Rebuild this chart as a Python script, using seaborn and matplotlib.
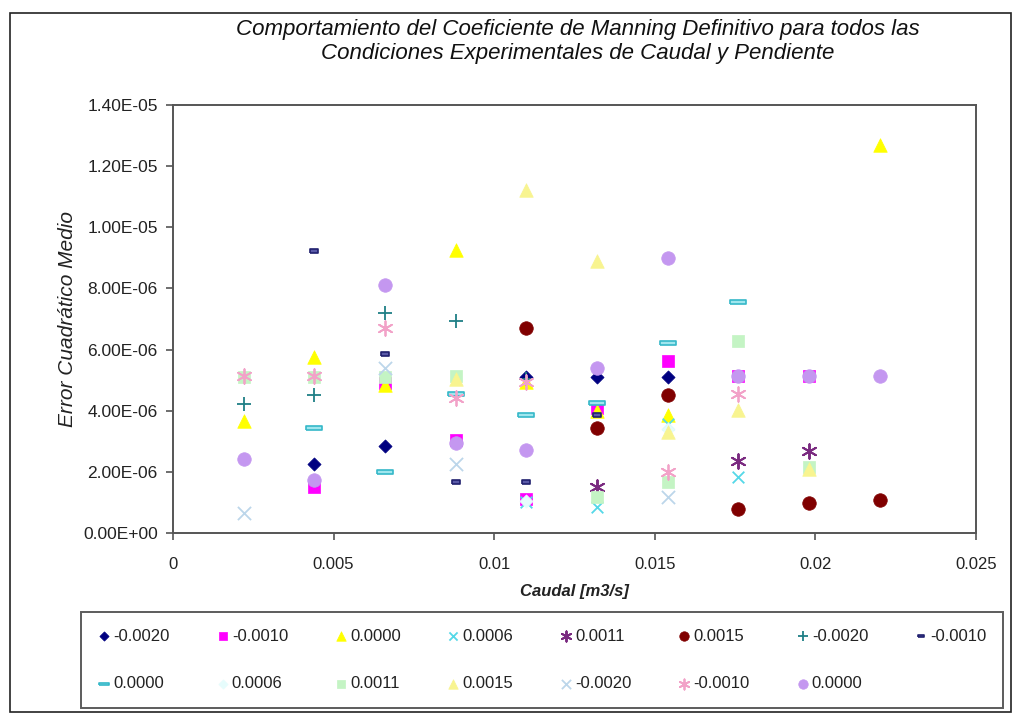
import numpy as np
import matplotlib
matplotlib.use("Agg")
import matplotlib.pyplot as plt
from matplotlib.ticker import FuncFormatter, MultipleLocator
from matplotlib.patches import Rectangle
import seaborn as sns

nan = np.nan

# Caudal [m3/s] for the ten experimental runs
caudal = [0.0022, 0.0044, 0.0066, 0.0088, 0.0110, 0.0132, 0.0154, 0.0176, 0.0198, 0.0220]

# Pendiente label of every series
pendientes = ["-0.0020", "-0.0010", "0.0000", "0.0006", "0.0011", "0.0015",
              "-0.0020", "-0.0010", "0.0000", "0.0006", "0.0011", "0.0015",
              "-0.0020", "-0.0010", "0.0000"]

# Error cuadratico medio per series (NaN where the run has no value)
ecm_01 = [nan, 2.25e-6, 2.84e-6, nan, 5.10e-6, 5.10e-6, 5.10e-6, nan, nan, nan]
ecm_02 = [nan, 1.51e-6, 4.90e-6, 3.03e-6, 1.10e-6, 4.08e-6, 5.62e-6, 5.15e-6, 5.15e-6, nan]
ecm_03 = [3.66e-6, 5.75e-6, 4.83e-6, 9.26e-6, 4.95e-6, 4.00e-6, 3.85e-6, nan, nan, 12.68e-6]
ecm_04 = [nan, nan, nan, nan, 1.02e-6, 0.86e-6, 3.58e-6, 1.82e-6, nan, nan]
ecm_05 = [nan, nan, nan, nan, nan, 1.51e-6, nan, 2.35e-6, 2.68e-6, nan]
ecm_06 = [nan, nan, nan, nan, 6.71e-6, 3.43e-6, 4.50e-6, 0.77e-6, 0.97e-6, 1.08e-6]
ecm_07 = [4.21e-6, 4.50e-6, 7.19e-6, 6.93e-6, 5.05e-6, nan, nan, nan, nan, nan]
ecm_08 = [nan, 9.23e-6, 5.86e-6, 1.67e-6, 1.67e-6, 3.85e-6, nan, nan, nan, nan]
ecm_09 = [nan, 3.43e-6, 2.00e-6, 4.55e-6, 3.85e-6, 4.25e-6, 6.21e-6, 7.55e-6, nan, nan]
ecm_10 = [nan, nan, nan, nan, 1.05e-6, nan, 3.40e-6, nan, nan, nan]
ecm_11 = [5.10e-6, 5.10e-6, 5.10e-6, 5.12e-6, nan, 1.18e-6, 1.67e-6, 6.28e-6, 2.16e-6, nan]
ecm_12 = [nan, nan, nan, 5.05e-6, 11.21e-6, 8.91e-6, 3.31e-6, 4.01e-6, 2.10e-6, nan]
ecm_13 = [0.65e-6, nan, 5.39e-6, 2.25e-6, nan, nan, 1.18e-6, nan, nan, nan]
ecm_14 = [5.12e-6, 5.12e-6, 6.70e-6, 4.40e-6, 4.95e-6, nan, 2.00e-6, 4.56e-6, nan, nan]
ecm_15 = [2.41e-6, 1.73e-6, 8.11e-6, 2.95e-6, 2.71e-6, 5.39e-6, 8.98e-6, 5.12e-6, 5.12e-6, 5.12e-6]

series = [ecm_01, ecm_02, ecm_03, ecm_04, ecm_05, ecm_06, ecm_07, ecm_08,
          ecm_09, ecm_10, ecm_11, ecm_12, ecm_13, ecm_14, ecm_15]

# Marker shapes
short_dash = [(-1, -0.45), (1, -0.45), (1, 0.45), (-1, 0.45), (-1, -0.45)]
long_dash = [(-1, -0.28), (1, -0.28), (1, 0.28), (-1, 0.28), (-1, -0.28)]
asterisk = (6, 2, 0)

# (marker, size, face, edge, linewidth, filled)
styles = [
    ("D", 45, "#000080", "#000080", 0.5, True),
    ("s", 80, "#FF00FF", "#FF00FF", 0.5, True),
    ("^", 95, "#FFFF00", "#FFFF00", 0.5, True),
    ("x", 70, "#55D8E8", None, 1.3, False),
    (asterisk, 110, "#7A2A80", None, 1.4, False),
    ("o", 95, "#800000", "#800000", 0.5, True),
    ("+", 90, "#1F7F86", None, 1.3, False),
    (short_dash, 40, "#5A5AA8", "#20206E", 1.2, True),
    (long_dash, 120, "#9FE6EE", "#35B8C8", 1.2, True),
    ("D", 45, "#E6FCFC", "#E6FCFC", 0.5, True),
    ("s", 80, "#C4F4C4", "#C4F4C4", 0.5, True),
    ("^", 95, "#F8F490", "#F8F490", 0.5, True),
    ("x", 90, "#BCD6EA", None, 1.3, False),
    (asterisk, 110, "#F2A2C8", None, 1.3, False),
    ("o", 95, "#C497F0", "#C497F0", 0.5, True),
]

sns.set_style("white")
plt.rcParams["font.family"] = ["Liberation Sans", "DejaVu Sans"]

fig = plt.figure(figsize=(10.22, 7.15), dpi=100)
ax = fig.add_axes([173 / 1022, 1 - 533 / 715, (976 - 173) / 1022, (533 - 105) / 715])

for vals, lab, (mk, sz, fc, ec, lw, filled) in zip(series, pendientes, styles):
    if filled:
        sns.scatterplot(x=caudal, y=vals, marker=mk, s=sz, color=fc,
                        edgecolor=ec, linewidth=lw, ax=ax, label=lab, zorder=3)
    else:
        sns.scatterplot(x=caudal, y=vals, marker=mk, s=sz, color=fc,
                        linewidth=lw, ax=ax, label=lab, zorder=3)

ax.set_xlim(0, 0.025)
ax.set_ylim(0, 1.4e-5)
ax.xaxis.set_major_locator(MultipleLocator(0.005))
ax.yaxis.set_major_locator(MultipleLocator(2e-6))
ax.xaxis.set_major_formatter(FuncFormatter(lambda v, p: f"{v:g}"))
ax.yaxis.set_major_formatter(FuncFormatter(lambda v, p: f"{v:.2E}"))

for sp in ax.spines.values():
    sp.set_color("#555555")
    sp.set_linewidth(1.4)
ax.tick_params(axis="both", direction="out", length=5, width=1.2, color="#555555",
               left=True, bottom=True)
ax.tick_params(axis="y", labelsize=12.5, labelcolor="#222222", pad=6)
ax.tick_params(axis="x", labelsize=12, labelcolor="#222222", pad=12)

ax.set_xlabel("Caudal [m3/s]", fontsize=12, style="italic", fontweight="bold",
              color="#222222", labelpad=9)
ax.set_ylabel("Error Cuadrático Medio", fontsize=15, style="italic",
              color="#222222", labelpad=4)

fig.text(578 / 1022, 1 - 30 / 715,
         "Comportamiento del Coeficiente de Manning Definitivo para todos las",
         ha="center", va="center", fontsize=16, style="italic", color="#111111")
fig.text(578 / 1022, 1 - 54 / 715,
         "Condiciones Experimentales de Caudal y Pendiente",
         ha="center", va="center", fontsize=16, style="italic", color="#111111")

handles, labels = ax.get_legend_handles_labels()
ax.legend_ = None
order = [0, 8, 1, 9, 2, 10, 3, 11, 4, 12, 5, 13, 6, 14, 7]
leg = fig.legend([handles[i] for i in order], [labels[i] for i in order],
                 ncol=8, loc="upper left",
                 bbox_to_anchor=(81 / 1022, 1 - 612 / 715, (1003 - 81) / 1022, 0.0),
                 mode="expand", borderaxespad=0, fontsize=12, frameon=True,
                 fancybox=False, edgecolor="#333333", markerscale=0.7,
                 handlelength=0.8, handletextpad=0.15, labelspacing=1.95,
                 borderpad=1.0)
leg.get_frame().set_linewidth(1.4)
for t in leg.get_texts():
    t.set_color("#222222")

fig.patches.append(Rectangle((10 / 1022, 3 / 715), 1001 / 1022, 699 / 715,
                             transform=fig.transFigure, fill=False,
                             edgecolor="#222222", linewidth=1.2))

fig.savefig("out.png", dpi=100)
